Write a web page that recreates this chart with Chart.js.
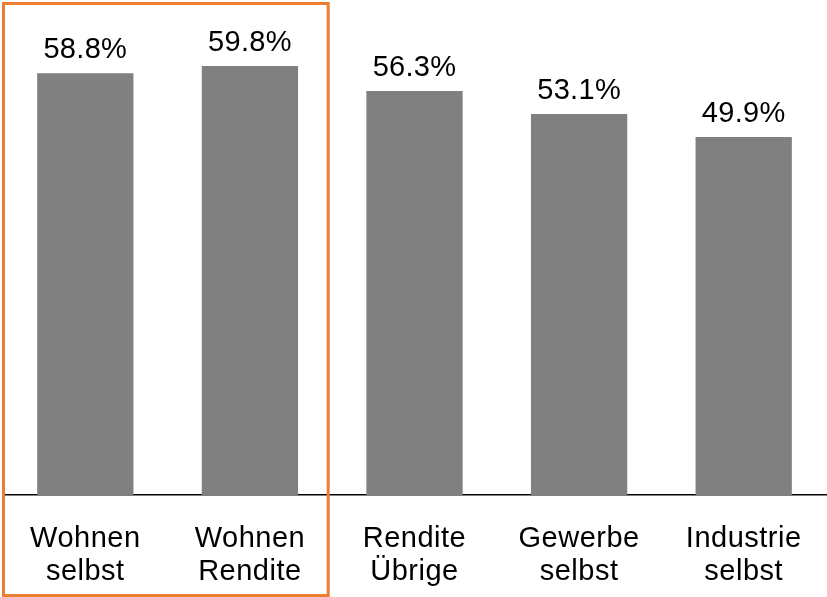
<!DOCTYPE html>
<html>
<head>
<meta charset="utf-8">
<script src="https://cdn.jsdelivr.net/npm/chart.js@4"></script>
<style>
  html, body { margin: 0; padding: 0; background: #fff; }
  #wrap { width: 827px; height: 597px; position: relative; }
</style>
</head>
<body>
<div id="wrap"><canvas id="grafico" width="827" height="597"></canvas></div>
<script>
const kategorien = [["Wohnen", "selbst"], ["Wohnen", "Rendite"], ["Rendite", "Übrige"], ["Gewerbe", "selbst"], ["Industrie", "selbst"]];
const werte = [58.8, 59.8, 56.3, 53.1, 49.9];
const markiert = [0, 1]; // Kategorien im orangen Rahmen

const schrift = "'Liberation Sans', Arial, sans-serif";

// etwas Sperrung wie im Original (Achsenbeschriftung)
const sperrung = {
  id: "sperrung",
  beforeDraw(chart) {
    chart.ctx.letterSpacing = "0.5px";
  }
};

// Prozentwerte über den Balken
const wertLabels = {
  id: "wertLabels",
  afterDatasetsDraw(chart) {
    const ctx = chart.ctx;
    const meta = chart.getDatasetMeta(0);
    ctx.save();
    ctx.letterSpacing = "0.3px";
    ctx.font = "29px " + schrift;
    ctx.fillStyle = "#000";
    ctx.textAlign = "center";
    ctx.textBaseline = "alphabetic";
    meta.data.forEach((bar, i) => {
      ctx.fillText(werte[i].toFixed(1) + "%", bar.x, bar.y - 15);
    });
    ctx.restore();
  }
};

// oranger Rahmen um die markierten Kategorien
const rahmen = {
  id: "rahmen",
  afterDraw(chart) {
    const x = chart.scales.x;
    const ctx = chart.ctx;
    const erster = markiert[0];
    const letzter = markiert[markiert.length - 1];
    const halb = (x.getPixelForValue(1) - x.getPixelForValue(0)) / 2;
    const links = x.getPixelForValue(erster) - halb + 0.5;
    const rechts = x.getPixelForValue(letzter) + halb - 4;
    ctx.save();
    ctx.strokeStyle = "#ED7D31";
    ctx.lineWidth = 3;
    ctx.strokeRect(links, 3.5, rechts - links, chart.height - 5);
    ctx.restore();
  }
};

const ctx = document.getElementById("grafico").getContext("2d");
const chart = new Chart(ctx, {
  type: "bar",
  data: {
    labels: kategorien,
    datasets: [{
      data: werte,
      backgroundColor: "#808080",
      borderWidth: 0,
      categoryPercentage: 1,
      barPercentage: 0.585
    }]
  },
  options: {
    responsive: false,
    animation: false,
    layout: { padding: { left: 3, right: 1, top: 0, bottom: 0 } },
    plugins: {
      legend: { display: false },
      tooltip: { enabled: false }
    },
    scales: {
      x: {
        grid: { display: false, drawTicks: false },
        border: { display: true, color: "#000", width: 1.5 },
        ticks: {
          color: "#000",
          font: { family: schrift, size: 29, lineHeight: 1.14 },
          padding: 27,
          maxRotation: 0,
          autoSkip: false
        },
        afterFit(axis) { axis.height = 102; }
      },
      y: {
        display: false,
        min: 0,
        max: 69
      }
    }
  },
  plugins: [sperrung, wertLabels, rahmen]
});
</script>
</body>
</html>
